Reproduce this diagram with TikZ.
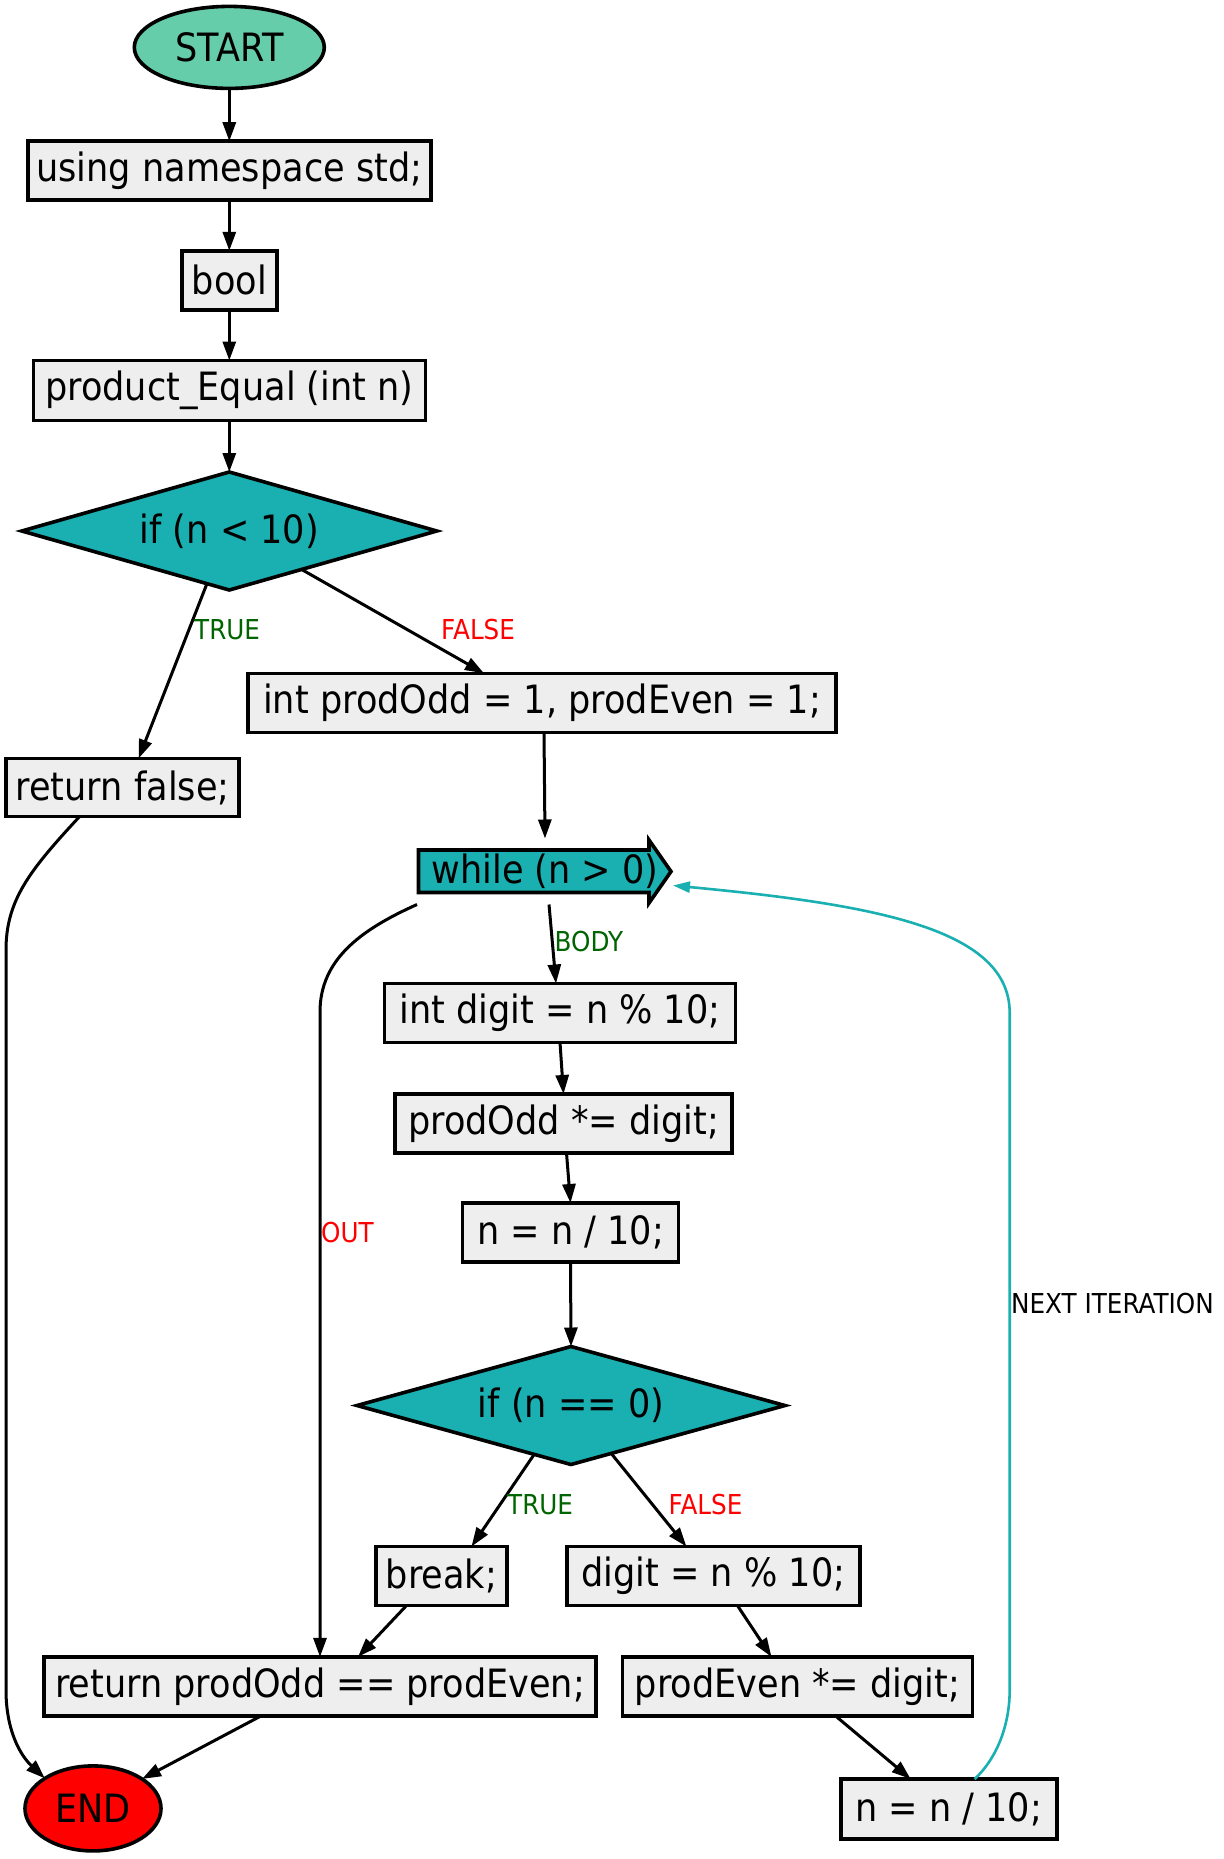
\documentclass[tikz,border=0pt]{standalone}
\usepackage{fontspec}
\setmainfont{DejaVu Sans}[FakeStretch=0.9]
\usetikzlibrary{arrows.meta,shapes.geometric,calc}
\definecolor{boxgray}{HTML}{EEEEEE}
\definecolor{tealfill}{HTML}{1AAFB0}
\definecolor{startgreen}{HTML}{66CDAA}
\definecolor{dgreen}{HTML}{006400}
\newcommand{\dgmainfont}{\fontsize{39}{46}\selectfont}
\newcommand{\dglabfont}{\fontsize{27.4}{32}\selectfont}
\begin{document}
\begin{tikzpicture}[x=1pt,y=-1pt,
  box/.style={draw=black, line width=3.6pt, fill=boxgray, rectangle, inner sep=0pt, outer sep=0pt, font=\dgmainfont},
  dia/.style={draw=black, line width=3.6pt, fill=tealfill, diamond, aspect=3.5, inner sep=0pt, outer sep=0pt, font=\dgmainfont},
  term/.style={draw=black, line width=3.6pt, ellipse, inner sep=0pt, outer sep=0pt, font=\dgmainfont},
  conn/.style={draw=black, line width=3pt, -{Triangle[length=19pt,width=13pt]}},
  loopconn/.style={draw=tealfill, line width=2.6pt, -{Triangle[length=17pt,width=11pt]}},
  lbl/.style={font=\dglabfont, inner sep=0pt, anchor=west}
]
\useasboundingbox (0,0) rectangle (1223,1859);
\fill[white] (0,0) rectangle (1223,1859);

% nodes
\node[term, fill=startgreen, minimum width=190, minimum height=82] (start) at (229.3,47.4) {START};
\node[box, minimum width=403, minimum height=59] (using) at (229.3,170.7) {using namespace std;};
\node[box, minimum width=95, minimum height=59] (bool) at (229.3,280.3) {bool};
\node[box, minimum width=392, minimum height=60] (prod) at (229.3,390.5) {product\_Equal (int n)};
\node[dia, minimum width=415, minimum height=118] (if1) at (229.3,531) {if (n < 10)};
\node[box, minimum width=588, minimum height=59] (prododd) at (542,702.8) {int prodOdd = 1, prodEven = 1;};
\node[box, minimum width=233, minimum height=58] (retfalse) at (122.6,787.5) {return false;};

% while shape
\filldraw[fill=tealfill, draw=black, line width=3.6pt, line join=miter]
  (418.5,850) -- (649,850) -- (649,840) -- (671,871.5) -- (649,903) -- (649,892.5) -- (418.5,892.5) -- cycle;
\node[inner sep=0pt, outer sep=0pt, minimum width=256, minimum height=66, font=\dgmainfont] (while) at (545,871.5) {while (n > 0)};

\node[box, minimum width=351, minimum height=59] (intdigit) at (560,1013) {int digit = n \% 10;};
\node[box, minimum width=337, minimum height=59] (prododdmul) at (563.5,1123.5) {prodOdd *= digit;};
\node[box, minimum width=216, minimum height=59] (ndiv1) at (570.5,1232.5) {n = n / 10;};
\node[dia, minimum width=428, minimum height=118] (if2) at (571,1405.5) {if (n == 0)};
\node[box, minimum width=131, minimum height=59] (brk) at (441.5,1576) {break;};
\node[box, minimum width=293, minimum height=59] (digit) at (713.4,1576) {digit = n \% 10;};
\node[box, minimum width=552, minimum height=59] (retprod) at (320,1686.4) {return prodOdd == prodEven;};
\node[box, minimum width=350, minimum height=59] (prodeven) at (797.5,1686.4) {prodEven *= digit;};
\node[term, fill=red, minimum width=136, minimum height=85] (endn) at (93,1808.4) {END};
\node[box, minimum width=216, minimum height=60] (ndiv2) at (948.7,1809) {n = n / 10;};

% connectors
\draw[conn] (start) -- (using);
\draw[conn] (using) -- (bool);
\draw[conn] (bool) -- (prod);
\draw[conn] (prod) -- (if1);
\draw[conn] (if1.-113) -- ([xshift=16pt]retfalse.north);
\draw[conn] (if1.-28) -- ([xshift=-58pt]prododd.north);
\draw[conn] ([xshift=2pt]prododd.south) -- (while.north);
\draw[conn] ([xshift=4pt]while.south) -- ([xshift=-4pt]intdigit.north);
\draw[conn] (intdigit.south) -- (prododdmul.north);
\draw[conn] ([xshift=3pt]prododdmul.south) -- (ndiv1.north);
\draw[conn] (ndiv1.south) -- (if2.north);
\draw[conn] (if2.-127) -- ([xshift=30pt]brk.north);
\draw[conn] (if2.-50) -- ([xshift=-27pt]digit.north);
\draw[conn] ([xshift=-35pt]brk.south) -- ([xshift=38pt]retprod.north);
\draw[conn] ([xshift=24pt]digit.south) -- ([xshift=-26pt]prodeven.north);
\draw[conn] ([xshift=-59pt]retprod.south) -- (endn.31);
\draw[conn] ([xshift=38pt]prodeven.south) -- ([xshift=-38pt]ndiv2.north);
\draw[conn] ([xshift=-43pt]retfalse.south) .. controls (30,870) and (6,900) .. (6,950)
  -- (6,1690) .. controls (6,1730) and (20,1755) .. (endn.148);
\draw[conn] (while.south west) .. controls (360,930) and (320,960) .. (320,1012) -- (retprod.north);
\draw[loopconn] ([xshift=26pt]ndiv2.north) .. controls (1000,1755) and (1009.7,1720) .. (1009.7,1690)
  -- (1009.7,1013) .. controls (1009.7,930) and (880,905) .. ([yshift=-14pt]while.east);

% labels
\node[lbl, text=dgreen] (t1) at (194,630) {TRUE};
\node[lbl, text=red] (f1) at (441,630) {FALSE};
\node[lbl, text=dgreen] (body) at (554.5,942) {BODY};
\node[lbl, text=red] (out) at (321,1232.5) {OUT};
\node[lbl, text=black] (next) at (1011,1303.5) {NEXT ITERATION};
\node[lbl, text=dgreen] (t2) at (507,1505) {TRUE};
\node[lbl, text=red] (f2) at (668.4,1505) {FALSE};
\end{tikzpicture}
\end{document}
